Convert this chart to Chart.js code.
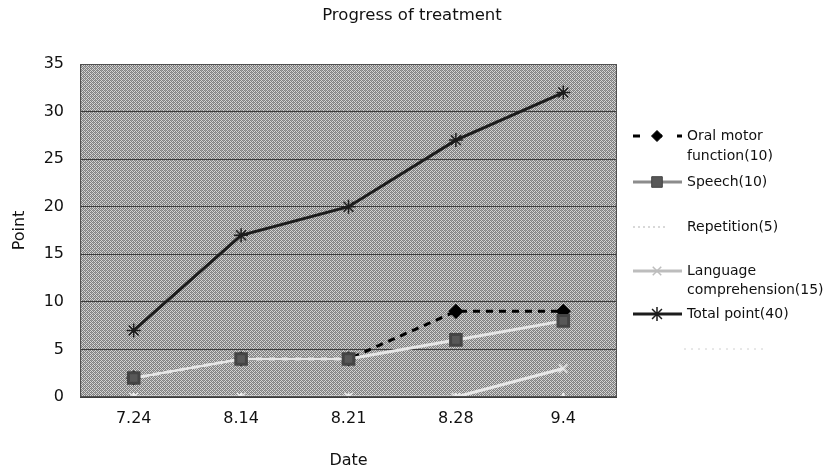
<!DOCTYPE html>
<html>
<head>
<meta charset="utf-8">
<script src="https://cdn.jsdelivr.net/npm/chart.js@4"></script>
<style>
  body { margin: 0; background: #fff; }
  #wrap { width: 828px; height: 474px; }
</style>
</head>
<body>
<div id="wrap"><canvas id="chart" width="828" height="474"></canvas></div>
<script>
const dates = ["7.24", "8.14", "8.21", "8.28", "9.4"];
const oralMotor = [2, 4, 4, 9, 9];
const speech = [2, 4, 4, 6, 8];
const repetition = [0, 0, 0, 0, 0];
const languageComp = [0, 0, 0, 0, 3];
const totalPoint = [7, 17, 20, 27, 32];
const legendText = [
  ["Oral motor", "function(10)"],
  ["Speech(10)"],
  ["Repetition(5)"],
  ["Language", "comprehension(15)"],
  ["Total point(40)"],
];

const font = "'DejaVu Sans', sans-serif";

// dithered grey fill like the old excel plot area
function makePattern() {
  const p = document.createElement("canvas");
  p.width = 4;
  p.height = 4;
  const c = p.getContext("2d");
  c.fillStyle = "#d4d4d4";
  c.fillRect(0, 0, 4, 4);
  c.fillStyle = "#808080";
  for (let y = 0; y < 4; y++) {
    for (let x = 0; x < 4; x++) {
      if ((x + y) % 2 === 0) c.fillRect(x, y, 1, 1);
    }
  }
  c.fillStyle = "#a0a0a0";
  c.fillRect(1, 2, 1, 1);
  c.fillRect(3, 0, 1, 1);
  return c.createPattern(p, "repeat");
}

const plotBg = {
  id: "plotBg",
  beforeDraw(chart) {
    const { ctx, chartArea: a } = chart;
    ctx.save();
    ctx.fillStyle = makePattern();
    ctx.fillRect(a.left, a.top, a.right - a.left, a.bottom - a.top);
    ctx.restore();
  },
  afterDraw(chart) {
    const { ctx, chartArea: a } = chart;
    ctx.save();
    ctx.strokeStyle = "#505050";
    ctx.lineWidth = 1;
    ctx.strokeRect(a.left + 0.5, a.top + 0.5, a.right - a.left - 1, a.bottom - a.top - 1);

    // title
    ctx.fillStyle = "#111";
    ctx.font = "16.5px " + font;
    ctx.textAlign = "center";
    ctx.textBaseline = "middle";
    ctx.fillText("Progress of treatment", 412, 16);

    // legend
    const rows = [
      { ds: 0, y: [136, 156] },
      { ds: 1, y: [182] },
      { ds: 2, y: [227] },
      { ds: 3, y: [271, 290] },
      { ds: 4, y: [314] },
    ];
    ctx.font = "14px " + font;
    ctx.textAlign = "left";
    rows.forEach((r, i) => {
      const ds = chart.data.datasets[r.ds];
      const ly = r.y[0];
      ctx.save();
      ctx.strokeStyle = ds.legendColor || ds.borderColor;
      ctx.lineWidth = ds.borderWidth;
      ctx.setLineDash(ds.legendDash || ds.borderDash || []);
      ctx.beginPath();
      ctx.moveTo(633, ly);
      ctx.lineTo(ds.legendEnd || 682, ly);
      ctx.stroke();
      ctx.restore();
      if (ds.pointRadius > 0 && !ds.legendNoPoint) {
        ctx.save();
        ctx.fillStyle = ds.backgroundColor;
        ctx.strokeStyle = ds.pointBorderColor || ds.legendColor || ds.borderColor;
        ctx.lineWidth = ds.pointBorderWidth || 1;
        Chart.helpers.drawPoint(ctx, {
          pointStyle: ds.pointStyle,
          radius: ds.pointRadius,
          borderWidth: ds.pointBorderWidth || 1,
          rotation: 0,
        }, 657, ly);
        ctx.restore();
      }
      ctx.fillStyle = "#111";
      legendText[i].forEach((t, k) => ctx.fillText(t, 687, r.y[k]));
    });

    // faint empty legend row
    ctx.strokeStyle = "#d0d0d0";
    ctx.setLineDash([2, 5]);
    ctx.beginPath();
    ctx.moveTo(684, 349);
    ctx.lineTo(768, 349);
    ctx.stroke();
    ctx.restore();
  },
};

const ctx = document.getElementById("chart");

new Chart(ctx, {
  type: "line",
  data: {
    labels: dates,
    datasets: [
      {
        label: "Oral motor function(10)",
        data: oralMotor,
        borderColor: "#000",
        backgroundColor: "#000",
        borderWidth: 3,
        borderDash: [7, 6],
        legendDash: [7, 15],
        pointStyle: "rectRot",
        pointRadius: 5.5,
        order: 2,
      },
      {
        label: "Speech(10)",
        data: speech,
        borderColor: "#e6e6e6",
        legendColor: "#8c8c8c",
        backgroundColor: "#585858",
        pointBorderColor: "#444",
        borderWidth: 3,
        pointStyle: "rect",
        pointRadius: 7.5,
        order: 1,
      },
      {
        label: "Repetition(5)",
        data: repetition,
        borderColor: "#eeeeee",
        legendColor: "#d8d8d8",
        legendDash: [2, 3],
        legendEnd: 665,
        backgroundColor: "#eeeeee",
        borderWidth: 2,
        pointStyle: "triangle",
        pointRadius: 3,
        legendNoPoint: true,
        order: 4,
      },
      {
        label: "Language comprehension(15)",
        data: languageComp,
        borderColor: "#e8e8e8",
        legendColor: "#bdbdbd",
        backgroundColor: "#e8e8e8",
        borderWidth: 3,
        pointStyle: "crossRot",
        pointRadius: 6,
        pointBorderWidth: 1.5,
        order: 3,
      },
      {
        label: "Total point(40)",
        data: totalPoint,
        borderColor: "#1c1c1c",
        backgroundColor: "#1c1c1c",
        borderWidth: 3,
        pointStyle: "star",
        pointRadius: 7,
        pointBorderWidth: 1.5,
        order: 0,
      },
    ],
  },
  options: {
    responsive: false,
    animation: false,
    devicePixelRatio: 1,
    layout: { padding: { left: 0, top: 64, right: 211, bottom: 0 } },
    plugins: {
      legend: { display: false },
      title: { display: false },
      tooltip: { enabled: false },
    },
    elements: { line: { tension: 0 } },
    scales: {
      x: {
        offset: true,
        grid: { display: false, drawTicks: false },
        border: { display: false },
        ticks: { color: "#111", font: { family: font, size: 16 }, padding: 12 },
        title: {
          display: true,
          text: "Date",
          color: "#111",
          font: { family: font, size: 16 },
          padding: { top: 12 },
        },
        afterFit(scale) {
          scale.height = 77;
        },
      },
      y: {
        min: 0,
        max: 35,
        ticks: { stepSize: 5, color: "#111", font: { family: font, size: 16 }, padding: 16 },
        grid: { color: "#3c3c3c", lineWidth: 1, drawTicks: false },
        border: { display: false },
        title: {
          display: true,
          text: "Point",
          color: "#111",
          font: { family: font, size: 16 },
          padding: { top: 10, bottom: 4 },
        },
        afterFit(scale) {
          scale.width = 80;
        },
      },
    },
  },
  plugins: [plotBg],
});
</script>
</body>
</html>
